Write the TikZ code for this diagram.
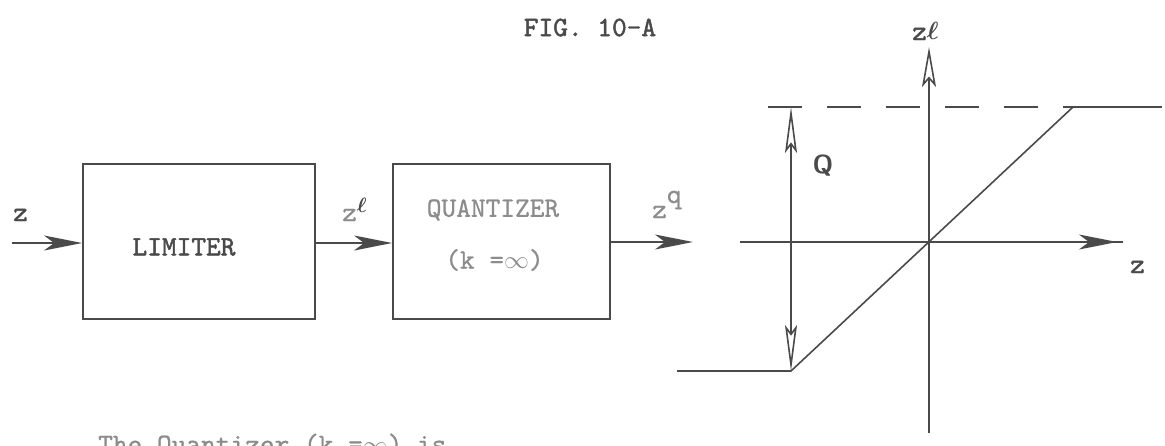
\documentclass[tikz,border=0pt]{standalone}
\usepackage{fontspec}
\usepackage{bm}
\usetikzlibrary{arrows.meta}
\newfontfamily\typew{lmmono10-regular.otf}[FakeBold=1.6]
\newfontfamily\typewlight{lmmono10-regular.otf}[FakeBold=0.8]
\definecolor{ink}{HTML}{4A4A4A}
\definecolor{faded}{HTML}{8C8C8C}
\begin{document}
\begin{tikzpicture}[x=1pt,y=-1pt,
  every path/.style={color=ink},
  box/.style={draw=ink, line width=1.8pt, inner sep=0pt},
  tt/.style={text=ink, font=\fontsize{28}{30}\selectfont\typew, inner sep=0pt},
  ttfaded/.style={text=faded, font=\fontsize{28}{30}\selectfont\typewlight, inner sep=0pt},
  line/.style={draw=ink, line width=1.6pt},
  flow/.style={line, -{Stealth[length=38pt,width=15pt,inset=10pt]}},
  axisarrow/.style={line, -{Stealth[length=40pt,width=14pt,inset=8pt,open]}},
  qarrow/.style={line, {Stealth[length=46pt,width=12pt,inset=8pt,open]}-{Stealth[length=46pt,width=12pt,inset=8pt,open]}}
]
\useasboundingbox[fill=white] (0,0) rectangle (1165,445);

% title
\node[tt] (title) at (590,27.5) {FIG.~10-A};

% blocks
\node[box, minimum width=232pt, minimum height=155pt] (lim) at (199,241.5) {};
\node[box, minimum width=217pt, minimum height=155pt] (qua) at (501.5,241.5) {};
\node[tt] (limtxt) at (184,247) {LIMITER};
\node[ttfaded] (quatxt) at (493,210) {QUANTIZER};
\node[ttfaded] (ktxt) at (494.5,260) {(k =$\infty$)};

% signal flow
\coordinate (in) at (12,243);
\coordinate (out) at (693,242);
\draw[flow] (in) -- (lim.west |- in);
\draw[flow] (lim.east |- in) -- (qua.west |- in);
\draw[flow] (qua.east |- out) -- (out);

\node[tt, anchor=base west] (zin) at (13,221) {z};
\node[ttfaded, anchor=base west] (zl) at (342,221) {z\raisebox{9pt}{\fontsize{20}{20}\selectfont\color{ink}$\bm{\ell}$}};
\node[ttfaded, anchor=base west] (zq) at (652,218) {z\raisebox{15pt}{q}};

% characteristic
\coordinate (O) at (929,242);
\coordinate (hL) at (740,242);
\coordinate (hR) at (1123,242);
\coordinate (hA) at (1080,242);
\coordinate (hT) at (1117,242);
\coordinate (vB) at (929,433);
\coordinate (vT) at (929,47);
\coordinate (dL) at (768,107);
\coordinate (kU) at (1073,107);
\coordinate (eR) at (1162,107);
\coordinate (kL) at (791,371);
\coordinate (eL) at (677,371);
\coordinate (qT) at (791,107);

\draw[line] (hL) -- (hR);
\draw[flow] (hA) -- (hT);
\draw[axisarrow] (vB) -- (vT);
\draw[line, dash pattern=on 34pt off 25pt] (dL) -- (kU);
\draw[line] (kU) -- (eR);
\draw[line] (eL) -- (kL) -- (kU);
\draw[qarrow] (qT) -- (kL);

\node[text=ink, font=\fontsize{26}{28}\selectfont\sffamily\bfseries, inner sep=0pt] (Q) at (823,166) {Q};
\node[tt, anchor=base west] (zax) at (1130,273) {z};
\node[tt, anchor=base west] (zlax) at (912,40) {z\raisebox{1pt}{$\bm{\ell}$}};

% cut-off text
\node[ttfaded, anchor=base west] (note) at (98,453) {The Quantizer (k =$\infty$) is};
\end{tikzpicture}
\end{document}
